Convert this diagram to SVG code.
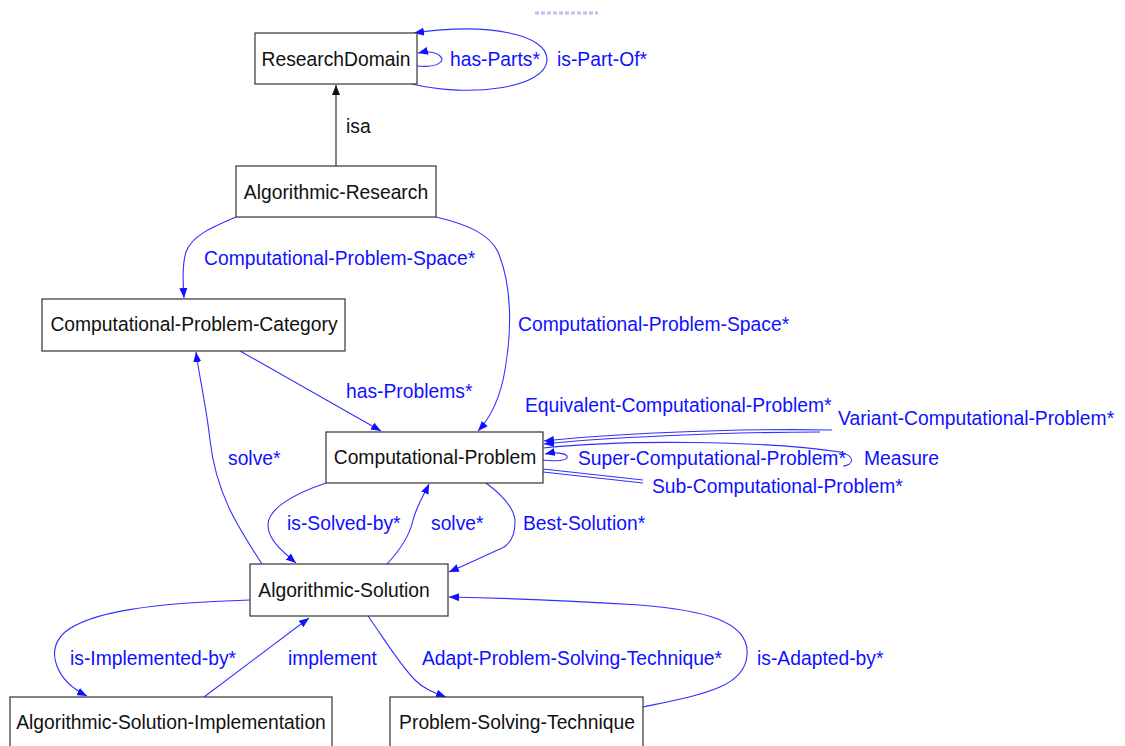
<svg xmlns="http://www.w3.org/2000/svg" width="1125" height="746" viewBox="0 0 1125 746">
<style>
.node rect{fill:#fff;stroke:#333;stroke-width:1.2}
.node text{font-family:"Liberation Sans",Arial,sans-serif;font-size:19.3px;fill:#111;text-anchor:middle}
.e{fill:none;stroke:#3030ff;stroke-width:1.1}
.k{fill:none;stroke:#222;stroke-width:1.1}
.lbl{font-family:"Liberation Sans",Arial,sans-serif;font-size:19.3px;fill:#1010ff}
.lblk{font-family:"Liberation Sans",Arial,sans-serif;font-size:19.3px;fill:#111}
</style>
<defs>
<marker id="ab" markerUnits="userSpaceOnUse" markerWidth="11" markerHeight="8" refX="10" refY="4" orient="auto"><path d="M0,0 L10,4 L0,8 z" fill="#1010ff"/></marker>
<marker id="ak" markerUnits="userSpaceOnUse" markerWidth="11" markerHeight="8" refX="10" refY="4" orient="auto"><path d="M0,0 L10,4 L0,8 z" fill="#111"/></marker>
</defs>
<rect width="1125" height="746" fill="#fff"/>
<path d="M535,13 L598,13" stroke="#8f96e6" stroke-width="3" stroke-dasharray="4,2" opacity="0.6"/>
<g id="connectors">
<path class="k" d="M336,166 L336,85" marker-end="url(#ak)"/>
<path class="e" d="M417,66 C438,68 446,61 440,56 C436,52 427,51 418,53" marker-end="url(#ab)"/>
<path class="e" d="M412,84 C470,98 546,88 547,60 C548,35 490,22 414,33" marker-end="url(#ab)"/>
<path class="e" d="M236,217 C210,228 192,236 186,252 C182,265 183,282 184,298" marker-end="url(#ab)"/>
<path class="e" d="M436,217 C470,225 490,235 498,252 C512,285 512,330 505,370 C500,400 490,418 478,431" marker-end="url(#ab)"/>
<path class="e" d="M240,351 L381,431" marker-end="url(#ab)"/>
<path class="e" d="M262,564 C240,530 216,495 210,440 C206,405 199,375 196,352" marker-end="url(#ab)"/>
<path class="e" d="M326,483 C290,495 268,510 268,525 C268,540 283,552 296,563" marker-end="url(#ab)"/>
<path class="e" d="M387,564 C400,550 410,535 413,520 C417,505 424,495 429,484" marker-end="url(#ab)"/>
<path class="e" d="M486,483 C505,497 515,510 515,522 C515,535 510,545 500,549 C480,558 465,565 449,572" marker-end="url(#ab)"/>
<path class="e" d="M832,430 C720,428 600,435 544,441" marker-end="url(#ab)"/>
<path class="e" d="M820,432 C720,432 600,438 544,444" marker-end="url(#ab)"/>
<path class="e" d="M543,448 C620,440 760,440 840,452 C856,456 854,465 843,466"/>
<path class="e" d="M543,460 C558,462 569,460 567,456 C565,453 555,452 545,454" marker-end="url(#ab)"/>
<path class="e" d="M543,469 L643,480"/>
<path class="e" d="M543,472 L643,483"/>
<path class="e" d="M250,600 C150,603 90,612 65,632 C45,650 55,680 87,696" marker-end="url(#ab)"/>
<path class="e" d="M204,697 L309,618" marker-end="url(#ab)"/>
<path class="e" d="M368,616 C385,640 400,665 415,680 C425,690 435,693 446,697" marker-end="url(#ab)"/>
<path class="e" d="M643,707 C700,695 745,688 747,655 C750,620 700,610 640,605 C560,600 500,598 449,597" marker-end="url(#ab)"/>
</g>
<g id="labels">
<text class="lblk" x="346" y="133">isa</text>
<text class="lbl" x="450" y="66">has-Parts*</text>
<text class="lbl" x="557" y="66">is-Part-Of*</text>
<text class="lbl" x="204" y="265">Computational-Problem-Space*</text>
<text class="lbl" x="518" y="331">Computational-Problem-Space*</text>
<text class="lbl" x="346" y="398">has-Problems*</text>
<text class="lbl" x="228" y="465">solve*</text>
<text class="lbl" x="525" y="412">Equivalent-Computational-Problem*</text>
<text class="lbl" x="838" y="425">Variant-Computational-Problem*</text>
<text class="lbl" x="578" y="465">Super-Computational-Problem*</text>
<text class="lbl" x="864" y="465">Measure</text>
<text class="lbl" x="652" y="493">Sub-Computational-Problem*</text>
<text class="lbl" x="287" y="530">is-Solved-by*</text>
<text class="lbl" x="431" y="530">solve*</text>
<text class="lbl" x="523" y="530">Best-Solution*</text>
<text class="lbl" x="70" y="665">is-Implemented-by*</text>
<text class="lbl" x="288" y="665">implement</text>
<text class="lbl" x="422" y="665">Adapt-Problem-Solving-Technique*</text>
<text class="lbl" x="757" y="665">is-Adapted-by*</text>
</g>
<g id="n-ResearchDomain" class="node"><rect x="255" y="33" width="162" height="51"/><text x="336" y="66">ResearchDomain</text></g>
<g id="n-AlgorithmicResearch" class="node"><rect x="236" y="166" width="200" height="51"/><text x="336" y="199">Algorithmic-Research</text></g>
<g id="n-CPCategory" class="node"><rect x="42" y="299" width="303" height="52"/><text x="194" y="331">Computational-Problem-Category</text></g>
<g id="n-CProblem" class="node"><rect x="326" y="432" width="217" height="51"/><text x="435" y="464">Computational-Problem</text></g>
<g id="n-AlgSolution" class="node"><rect x="250" y="564" width="198" height="52"/><text x="344" y="597">Algorithmic-Solution</text></g>
<g id="n-AlgSolImpl" class="node"><rect x="10" y="697" width="322" height="60"/><text x="171" y="729">Algorithmic-Solution-Implementation</text></g>
<g id="n-PST" class="node"><rect x="390" y="697" width="253" height="60"/><text x="517" y="729">Problem-Solving-Technique</text></g>
</svg>
